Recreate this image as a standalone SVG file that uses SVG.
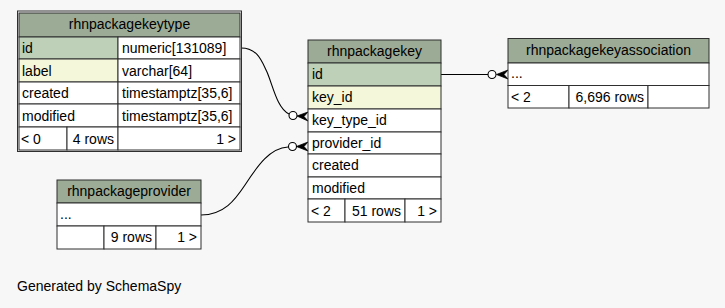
<svg xmlns="http://www.w3.org/2000/svg" width="725" height="308" viewBox="0 0 725 308">
  <style>
    .bg{fill:#f7f7f7}
    .tbl rect{stroke:#2f2f2f;stroke-width:1}
    .hdr{fill:#9bab96}
    .pk{fill:#bed1b8}
    .idx{fill:#f4f7da}
    .cell{fill:#ffffff}
    .focus{fill:none;stroke:#222;stroke-width:3}
    text{font-family:"Liberation Sans",Arial,Helvetica,sans-serif;font-size:14px;fill:#000}
    .c{text-anchor:middle}
    .r{text-anchor:end}
    .edge{fill:none;stroke:#000;stroke-width:1.1}
    .odot{fill:#fff;stroke:#000;stroke-width:1.1}
    .crow{fill:#000;stroke:#000;stroke-width:0.8;stroke-linejoin:miter}
  </style>

  <rect class="bg" x="0" y="0" width="725" height="308"/>

  <!-- connectors -->
  <g id="connectors">
    <!-- rhnpackagekeytype.id -> rhnpackagekey.key_type_id -->
    <path class="edge" d="M241,48 C258,48 262,62 267,72 C273,86 277,108 289,114"/>
    <circle class="odot" cx="293" cy="115.5" r="4"/>
    <path class="crow" d="M308,112 L297,116 L308,121 L304,116.5 Z"/>
    <!-- rhnpackageprovider -> rhnpackagekey.provider_id -->
    <path class="edge" d="M201,215 C224,215 235,200 245,185 C258,165 270,148 288,147"/>
    <circle class="odot" cx="292.5" cy="146.5" r="4"/>
    <path class="crow" d="M308,142 L296.5,146.5 L308,151 L304,146.5 Z"/>
    <!-- rhnpackagekey.id -> rhnpackagekeyassociation -->
    <path class="edge" d="M441,74.5 L488,74.5"/>
    <circle class="odot" cx="492" cy="74.5" r="4"/>
    <path class="crow" d="M508,70 L496.5,74.5 L508,79 L504,74.5 Z"/>
  </g>

  <!-- rhnpackagekeytype (focused table) -->
  <g id="rhnpackagekeytype" class="tbl">
    <rect class="hdr" x="19" y="13" width="221" height="24"/>
    <rect class="pk" x="19" y="37" width="99" height="22"/>
    <rect class="cell" x="118" y="37" width="122" height="22"/>
    <rect class="idx" x="19" y="59" width="99" height="23"/>
    <rect class="cell" x="118" y="59" width="122" height="23"/>
    <rect class="cell" x="19" y="82" width="99" height="22"/>
    <rect class="cell" x="118" y="82" width="122" height="22"/>
    <rect class="cell" x="19" y="104" width="99" height="23"/>
    <rect class="cell" x="118" y="104" width="122" height="23"/>
    <rect class="cell" x="19" y="127" width="48" height="23"/>
    <rect class="cell" x="67" y="127" width="51" height="23"/>
    <rect class="cell" x="118" y="127" width="122" height="23"/>
    <rect class="focus" x="17.5" y="11" width="224" height="140.5"/>
    <text class="c" x="129.5" y="29">rhnpackagekeytype</text>
    <text x="22" y="53">id</text>
    <text x="122" y="53">numeric[131089]</text>
    <text x="22" y="75.5">label</text>
    <text x="122" y="75.5">varchar[64]</text>
    <text x="22" y="98">created</text>
    <text x="122" y="98">timestamptz[35,6]</text>
    <text x="22" y="120.5">modified</text>
    <text x="122" y="120.5">timestamptz[35,6]</text>
    <text x="21" y="143.5">&lt; 0</text>
    <text class="r" x="114" y="143.5">4 rows</text>
    <text class="r" x="236" y="143.5">1 &gt;</text>
  </g>

  <!-- rhnpackagekey -->
  <g id="rhnpackagekey" class="tbl">
    <rect class="hdr" x="308" y="40" width="133" height="23"/>
    <rect class="pk" x="308" y="63" width="133" height="23"/>
    <rect class="idx" x="308" y="86" width="133" height="23"/>
    <rect class="cell" x="308" y="109" width="133" height="23"/>
    <rect class="cell" x="308" y="132" width="133" height="22"/>
    <rect class="cell" x="308" y="154" width="133" height="23"/>
    <rect class="cell" x="308" y="177" width="133" height="22"/>
    <rect class="cell" x="308" y="199" width="37" height="23"/>
    <rect class="cell" x="345" y="199" width="60" height="23"/>
    <rect class="cell" x="405" y="199" width="36" height="23"/>
    <text class="c" x="374.5" y="56">rhnpackagekey</text>
    <text x="312" y="79">id</text>
    <text x="312" y="102">key_id</text>
    <text x="312" y="125">key_type_id</text>
    <text x="312" y="147.5">provider_id</text>
    <text x="312" y="170">created</text>
    <text x="312" y="192.5">modified</text>
    <text x="311" y="215.5">&lt; 2</text>
    <text class="r" x="401" y="215.5">51 rows</text>
    <text class="r" x="437" y="215.5">1 &gt;</text>
  </g>

  <!-- rhnpackagekeyassociation -->
  <g id="rhnpackagekeyassociation" class="tbl">
    <rect class="hdr" x="508" y="38.5" width="201" height="24.5"/>
    <rect class="cell" x="508" y="63" width="201" height="22.5"/>
    <rect class="cell" x="508" y="85.5" width="61" height="22.5"/>
    <rect class="cell" x="569" y="85.5" width="79" height="22.5"/>
    <rect class="cell" x="648" y="85.5" width="61" height="22.5"/>
    <text class="c" x="608.5" y="55">rhnpackagekeyassociation</text>
    <text x="511" y="78">...</text>
    <text x="511" y="101.5">&lt; 2</text>
    <text class="r" x="644" y="101.5">6,696 rows</text>
  </g>

  <!-- rhnpackageprovider -->
  <g id="rhnpackageprovider" class="tbl">
    <rect class="hdr" x="57" y="180" width="144" height="23"/>
    <rect class="cell" x="57" y="203" width="144" height="23"/>
    <rect class="cell" x="57" y="226" width="47" height="23"/>
    <rect class="cell" x="104" y="226" width="52" height="23"/>
    <rect class="cell" x="156" y="226" width="45" height="23"/>
    <text class="c" x="129" y="196">rhnpackageprovider</text>
    <text x="60" y="219">...</text>
    <text class="r" x="152" y="242">9 rows</text>
    <text class="r" x="197" y="242">1 &gt;</text>
  </g>

  <text x="17" y="291">Generated by SchemaSpy</text>
</svg>
